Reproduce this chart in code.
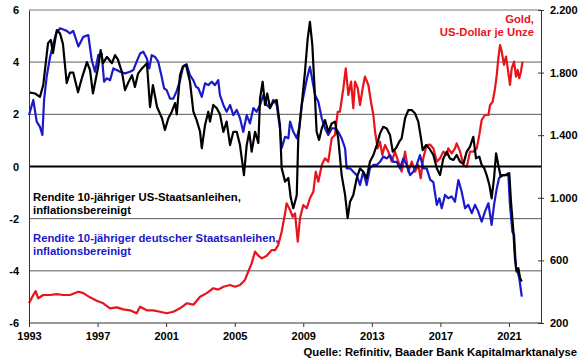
<!DOCTYPE html>
<html>
<head>
<meta charset="utf-8">
<script src="https://cdn.jsdelivr.net/npm/d3@7"></script>
<style>
  * { margin: 0; padding: 0; }
  body { background: #fff; }
  svg text {
    font-family: "Liberation Sans", Arial, Helvetica, sans-serif;
    font-weight: bold;
    font-size: 11px;
  }
  svg text.note { font-size: 11.3px; }
</style>
</head>
<body>
<svg id="chart"></svg>
<script>
// tick labels
const yearTicks = [1993, 1997, 2001, 2005, 2009, 2013, 2017, 2021];
const yieldTicks = [-6, -4, -2, 0, 2, 4, 6];
const goldTicks = [200, 600, 1000, 1400, 1800, 2200];

// [year, real yield in %] - US 10y, inflation adjusted (black)
const usRealYield = [
  [1993.00, 2.84], [1993.35, 2.8], [1993.64, 2.67], [1993.83, 3.12], [1994.11, 4.73],
  [1994.27, 4.85], [1994.40, 4.35], [1994.62, 5.23], [1994.81, 5.1], [1994.98, 4.7],
  [1995.20, 3.2], [1995.39, 3.6], [1995.58, 3.6], [1995.86, 2.85], [1996.09, 3.4],
  [1996.38, 4.0], [1996.56, 3.7], [1996.73, 2.8], [1997.03, 3.8], [1997.18, 4.46],
  [1997.32, 3.96], [1997.55, 4.2], [1997.84, 3.96], [1998.02, 4.27], [1998.19, 4.1],
  [1998.43, 3.6], [1998.60, 2.93], [1998.78, 3.2], [1999.01, 3.5], [1999.18, 3.05],
  [1999.36, 3.56], [1999.59, 3.76], [1999.88, 3.96], [2000.06, 2.28], [2000.23, 3.12],
  [2000.47, 2.28], [2000.76, 1.85], [2000.93, 1.4], [2001.13, 1.85], [2001.33, 2.1],
  [2001.52, 2.43], [2001.62, 2.0], [2001.81, 3.5], [2001.97, 3.82], [2002.16, 3.89],
  [2002.39, 3.25], [2002.59, 2.1], [2002.78, 1.78], [2002.98, 1.33], [2003.08, 0.7],
  [2003.27, 1.59], [2003.46, 2.1], [2003.56, 1.72], [2003.75, 2.36], [2003.95, 2.24],
  [2004.14, 2.0], [2004.34, 1.33], [2004.53, 1.72], [2004.73, 0.82], [2004.92, 1.33],
  [2005.12, 1.33], [2005.31, 0.82], [2005.54, -0.33], [2005.70, 0.82], [2005.85, 1.33],
  [2005.99, 0.57], [2006.19, 1.33], [2006.38, 0.9], [2006.48, 2.61], [2006.63, 3.25],
  [2006.77, 2.36], [2006.90, 2.8], [2007.06, 2.24], [2007.25, 2.48], [2007.45, 2.55],
  [2007.64, 1.59], [2007.74, -0.06], [2007.94, -0.58], [2008.13, -0.44], [2008.27, -1.2],
  [2008.42, -1.6], [2008.62, -1.1], [2008.71, 1.08], [2008.91, 2.36], [2009.10, 3.63],
  [2009.26, 4.91], [2009.39, 5.55], [2009.53, 4.65], [2009.64, 3.25], [2009.78, 1.33],
  [2009.92, 1.02], [2010.08, 1.46], [2010.27, 1.78], [2010.46, 1.33], [2010.66, 1.65],
  [2010.85, 1.72], [2011.04, 1.08], [2011.24, -0.33], [2011.44, -1.09], [2011.59, -1.98],
  [2011.73, -1.35], [2011.92, -1.09], [2012.12, -0.45], [2012.31, -0.07], [2012.50, -0.2],
  [2012.70, -0.45], [2012.89, 0.18], [2013.09, 0.44], [2013.29, 0.82], [2013.48, 1.27],
  [2013.67, 1.52], [2013.87, 1.46], [2014.06, 1.21], [2014.22, 0.57], [2014.41, 0.7],
  [2014.60, 0.95], [2014.74, 1.08], [2014.94, 1.85], [2015.13, 2.16], [2015.33, 2.16],
  [2015.52, 2.04], [2015.71, 1.72], [2015.87, 1.08], [2015.97, 0.63], [2016.16, 0.82],
  [2016.35, 0.7], [2016.59, 0.44], [2016.79, -0.07], [2016.98, -0.33], [2017.17, 0.31],
  [2017.37, 0.57], [2017.56, 0.31], [2017.76, 0.25], [2017.95, 0.44], [2018.15, 0.18],
  [2018.34, 0.1], [2018.54, 0.57], [2018.73, 0.76], [2018.92, 1.14], [2019.08, 0.31],
  [2019.27, 0.38], [2019.41, 0.06], [2019.56, -0.07], [2019.70, -0.33], [2019.86, -0.71],
  [2019.99, -1.22], [2020.13, -0.45], [2020.25, 0.5], [2020.38, 0.06], [2020.52, -0.39],
  [2020.67, -0.33], [2020.87, -0.33], [2021.02, -0.26], [2021.12, -1.35], [2021.26, -2.5],
  [2021.35, -3.52], [2021.45, -4.03], [2021.55, -3.9], [2021.65, -4.28], [2021.75, -4.41]
];

// [year, real yield in %] - German 10y, inflation adjusted (blue)
const deRealYield = [
  [1993.00, 1.97], [1993.25, 2.55], [1993.45, 1.72], [1993.64, 1.52], [1993.78, 1.21],
  [1993.88, 2.55], [1994.03, 3.44], [1994.23, 4.2], [1994.42, 4.72], [1994.58, 5.1],
  [1994.81, 5.3], [1995.00, 5.25], [1995.20, 5.2], [1995.39, 5.1], [1995.58, 5.2],
  [1995.88, 4.6], [1996.17, 4.97], [1996.46, 5.04], [1996.66, 4.08], [1996.85, 3.63],
  [1997.04, 4.27], [1997.24, 4.33], [1997.38, 3.25], [1997.53, 3.38], [1997.73, 3.31],
  [1997.92, 3.76], [1998.12, 3.7], [1998.31, 3.63], [1998.60, 3.57], [1998.89, 3.63],
  [1999.09, 3.7], [1999.28, 4.02], [1999.48, 4.33], [1999.67, 4.4], [1999.87, 4.15],
  [2000.02, 3.76], [2000.16, 4.27], [2000.35, 4.2], [2000.54, 4.02], [2000.74, 3.44],
  [2000.88, 3.0], [2001.03, 2.93], [2001.23, 2.6], [2001.42, 2.6], [2001.62, 2.9],
  [2001.81, 3.3], [2002.00, 3.85], [2002.20, 3.92], [2002.39, 3.5], [2002.59, 3.3],
  [2002.74, 3.06], [2002.88, 3.0], [2003.08, 2.67], [2003.27, 3.19], [2003.46, 3.12],
  [2003.66, 3.25], [2003.85, 3.12], [2004.04, 3.31], [2004.14, 2.74], [2004.34, 2.36],
  [2004.53, 2.1], [2004.73, 2.36], [2004.92, 1.97], [2005.12, 2.17], [2005.31, 1.85],
  [2005.50, 1.33], [2005.70, 1.97], [2005.89, 1.65], [2006.09, 2.24], [2006.28, 2.1],
  [2006.48, 2.36], [2006.67, 2.74], [2006.87, 2.36], [2007.06, 2.24], [2007.25, 2.55],
  [2007.45, 2.36], [2007.64, 1.46], [2007.74, 0.7], [2007.94, 1.14], [2008.13, 1.08],
  [2008.23, 1.72], [2008.42, 1.33], [2008.62, 1.08], [2008.77, 1.5], [2008.91, 2.36],
  [2009.10, 3.0], [2009.26, 3.5], [2009.39, 3.82], [2009.53, 3.31], [2009.69, 2.74],
  [2009.88, 2.48], [2010.08, 1.85], [2010.27, 1.46], [2010.46, 1.21], [2010.66, 1.46],
  [2010.85, 1.46], [2011.04, 1.33], [2011.24, 1.08], [2011.44, 0.7], [2011.53, -0.07],
  [2011.73, -0.07], [2011.92, -0.2], [2012.12, -0.33], [2012.31, -0.71], [2012.50, -0.2],
  [2012.70, -0.71], [2012.89, -0.07], [2013.09, 0.06], [2013.29, 0.06], [2013.48, 0.18],
  [2013.67, 0.38], [2013.87, 0.31], [2014.06, 0.44], [2014.25, 0.18], [2014.45, 0.18],
  [2014.64, -0.07], [2014.84, 0.31], [2015.04, 0.06], [2015.23, -0.33], [2015.42, -0.2],
  [2015.62, 0.06], [2015.81, 0.44], [2016.00, -0.07], [2016.20, -0.07], [2016.40, -0.5],
  [2016.59, -0.6], [2016.79, -1.47], [2016.94, -1.22], [2017.08, -1.6], [2017.27, -1.09],
  [2017.46, -1.22], [2017.66, -1.15], [2017.85, -1.35], [2018.05, -0.52], [2018.24, -0.96],
  [2018.44, -1.6], [2018.63, -1.47], [2018.83, -1.79], [2019.02, -1.47], [2019.21, -1.73],
  [2019.41, -2.11], [2019.60, -1.73], [2019.80, -1.41], [2019.99, -2.24], [2020.13, -1.47],
  [2020.29, -0.84], [2020.42, -0.45], [2020.58, -0.33], [2020.77, -0.33], [2020.96, -0.26],
  [2021.06, -1.47], [2021.20, -2.5], [2021.30, -2.62], [2021.41, -3.9], [2021.51, -4.03],
  [2021.60, -4.28], [2021.75, -4.99]
];

// [year, USD per ounce] - gold (red, right axis)
const goldPrice = [
  [1993.00, 326], [1993.25, 379], [1993.39, 404], [1993.54, 358], [1993.83, 379],
  [1994.23, 379], [1994.62, 385], [1995.00, 379], [1995.39, 379], [1995.88, 400],
  [1996.17, 391], [1996.56, 364], [1996.95, 342], [1997.33, 326], [1997.73, 294],
  [1998.12, 300], [1998.50, 287], [1998.89, 281], [1999.28, 262], [1999.48, 304],
  [1999.87, 281], [2000.25, 281], [2000.64, 272], [2001.03, 262], [2001.42, 272],
  [2001.81, 294], [2002.20, 326], [2002.59, 317], [2002.98, 368], [2003.37, 391],
  [2003.75, 422], [2004.04, 413], [2004.34, 432], [2004.73, 443], [2005.02, 432],
  [2005.31, 443], [2005.60, 475], [2005.79, 528], [2005.99, 581], [2006.19, 656],
  [2006.38, 630], [2006.58, 613], [2006.87, 630], [2007.16, 666], [2007.35, 666],
  [2007.54, 698], [2007.74, 783], [2007.94, 901], [2008.03, 965], [2008.23, 922],
  [2008.38, 879], [2008.52, 900], [2008.68, 720], [2008.81, 869], [2009.00, 954],
  [2009.20, 933], [2009.39, 997], [2009.59, 1039], [2009.73, 1167], [2009.88, 1103],
  [2010.08, 1210], [2010.27, 1252], [2010.46, 1231], [2010.66, 1380], [2010.85, 1401],
  [2011.01, 1550], [2011.14, 1550], [2011.34, 1700], [2011.48, 1827], [2011.63, 1657],
  [2011.79, 1742], [2011.92, 1572], [2012.02, 1742], [2012.18, 1700], [2012.31, 1593],
  [2012.50, 1721], [2012.60, 1774], [2012.80, 1721], [2012.95, 1614], [2013.09, 1529],
  [2013.19, 1422], [2013.34, 1316], [2013.48, 1358], [2013.61, 1274], [2013.77, 1337],
  [2013.96, 1295], [2014.16, 1231], [2014.35, 1295], [2014.55, 1231], [2014.74, 1167],
  [2014.94, 1295], [2015.13, 1167], [2015.33, 1231], [2015.52, 1167], [2015.71, 1210],
  [2015.85, 1125], [2016.00, 1252], [2016.20, 1337], [2016.40, 1340], [2016.59, 1316],
  [2016.79, 1231], [2016.98, 1252], [2017.17, 1295], [2017.37, 1274], [2017.46, 1316],
  [2017.66, 1284], [2017.85, 1316], [2017.95, 1348], [2018.15, 1295], [2018.34, 1210],
  [2018.54, 1199], [2018.73, 1295], [2018.92, 1295], [2019.12, 1316], [2019.27, 1401],
  [2019.41, 1497], [2019.60, 1529], [2019.80, 1529], [2019.90, 1593], [2020.05, 1614],
  [2020.19, 1700], [2020.29, 1785], [2020.38, 1891], [2020.48, 1976], [2020.58, 1934],
  [2020.71, 1849], [2020.83, 1902], [2020.93, 1827], [2021.06, 1721], [2021.16, 1827],
  [2021.30, 1870], [2021.41, 1774], [2021.51, 1817], [2021.60, 1764], [2021.70, 1806],
  [2021.79, 1870]
];

// Chart's dimensions
const width = 580;
const height = 359;
const marginTop = 10;
const marginBottom = 36;
const marginLeft = 29;
const marginRight = 39;

const black = "#000000";
const blue = "#1a1acc";
const red = "#e8141c";

const svg = d3
  .select("#chart")
  .attr("width", width)
  .attr("height", height)
  .attr("viewBox", [0, 0, width, height]);

// Scales
const x = d3
  .scaleLinear()
  .domain([1993, 2022.87])
  .range([marginLeft, width - marginRight]);

const y = d3
  .scaleLinear()
  .domain([-6, 6])
  .range([height - marginBottom, marginTop]);

const yGold = d3
  .scaleLinear()
  .domain([200, 2200])
  .range([height - marginBottom, marginTop]);

// Gridlines
svg
  .append("g")
  .selectAll("line")
  .data(yieldTicks.filter((d) => d !== 0 && d !== -6))
  .join("line")
  .attr("x1", marginLeft)
  .attr("x2", width - marginRight)
  .attr("y1", (d) => y(d))
  .attr("y2", (d) => y(d))
  .attr("stroke", (d) => (d >= 4 ? "#a3a3a3" : "#5a5a5a"))
  .attr("stroke-width", (d) => (d >= 4 ? 1.6 : 1));

// Lines
const line = (scale) =>
  d3
    .line()
    .x((d) => x(d[0]))
    .y((d) => scale(d[1]));

svg
  .append("path")
  .datum(goldPrice)
  .attr("fill", "none")
  .attr("stroke", red)
  .attr("stroke-width", 2.2)
  .attr("stroke-linejoin", "round")
  .attr("d", line(yGold));

svg
  .append("path")
  .datum(deRealYield)
  .attr("fill", "none")
  .attr("stroke", blue)
  .attr("stroke-width", 2.2)
  .attr("stroke-linejoin", "round")
  .attr("d", line(y));

svg
  .append("path")
  .datum(usRealYield)
  .attr("fill", "none")
  .attr("stroke", black)
  .attr("stroke-width", 2.2)
  .attr("stroke-linejoin", "round")
  .attr("d", line(y));

// Zero line
svg
  .append("line")
  .attr("x1", marginLeft)
  .attr("x2", width - marginRight)
  .attr("y1", y(0))
  .attr("y2", y(0))
  .attr("stroke", black)
  .attr("stroke-width", 2);

// X axis
svg
  .append("g")
  .attr("transform", `translate(0,${height - marginBottom})`)
  .call(
    d3
      .axisBottom(x)
      .tickValues(yearTicks)
      .tickFormat(d3.format("d"))
      .tickSize(4)
      .tickPadding(5)
  )
  .call((g) => g.select(".domain").attr("stroke", "#333").attr("d", `M${marginLeft},0H${width - marginRight}`))
  .call((g) => g.selectAll(".tick line").attr("stroke", "#333"))
  .call((g) => g.selectAll("text").attr("fill", black).style("font-size", "11px"));

// Left axis
svg
  .append("g")
  .attr("transform", `translate(${marginLeft},0)`)
  .call(
    d3
      .axisLeft(y)
      .tickValues(yieldTicks)
      .tickFormat((d) => String(d))
      .tickSize(0)
      .tickPadding(10)
  )
  .call((g) => g.select(".domain").attr("stroke", "#333"))
  .call((g) => g.selectAll("text").attr("fill", black).style("font-size", "11px"));

// Right axis
const deFormat = d3.formatLocale({
  decimal: ",",
  thousands: ".",
  grouping: [3],
  currency: ["", " €"],
}).format(",");

svg
  .append("g")
  .attr("transform", `translate(${width - marginRight},0)`)
  .call(
    d3
      .axisRight(yGold)
      .tickValues(goldTicks)
      .tickFormat(deFormat)
      .tickSize(3)
      .tickPadding(6)
  )
  .call((g) => g.select(".domain").attr("stroke", "#333"))
  .call((g) => g.selectAll(".tick line").attr("x1", -3).attr("stroke", "#333"))
  .call((g) => g.selectAll("text").attr("fill", black).style("font-size", "11px"));

// Labels
const label = (lines, xPos, yPos, color, anchor) => {
  const t = svg
    .append("text")
    .attr("class", "note")
    .attr("x", xPos)
    .attr("y", yPos)
    .attr("fill", color)
    .attr("text-anchor", anchor);
  lines.forEach((s, i) => {
    t.append("tspan")
      .attr("x", xPos)
      .attr("dy", i === 0 ? 0 : 12.5)
      .text(s);
  });
};

label(["Gold,", "US-Dollar je Unze"], 534, 23, red, "end");
label(["Rendite 10-jähriger US-Staatsanleihen,", "inflationsbereinigt"], 33, 201, black, "start");
label(["Rendite 10-jähriger deutscher Staatsanleihen,", "inflationsbereinigt"], 33, 242, blue, "start");

svg
  .append("text")
  .attr("class", "note")
  .attr("x", 577)
  .attr("y", 356)
  .attr("text-anchor", "end")
  .attr("fill", black)
  .text("Quelle: Refinitiv, Baader Bank Kapitalmarktanalyse");
</script>
</body>
</html>
